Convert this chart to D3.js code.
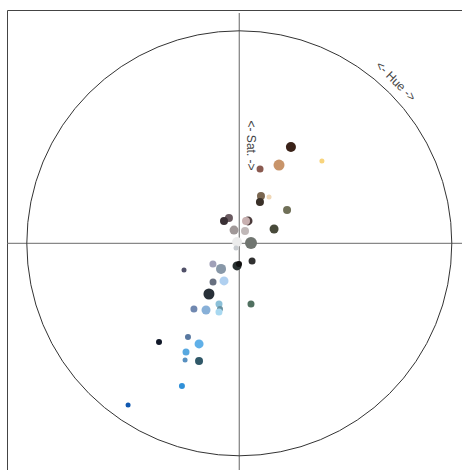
<!DOCTYPE html>
<html><head><meta charset="utf-8">
<script src="https://cdn.jsdelivr.net/npm/d3@7"></script>
<style>html,body{margin:0;padding:0;background:#fff;}svg{display:block;}</style>
</head><body>
<svg id="chart" width="462" height="470"></svg>
<script>
// hue in degrees (clockwise from top), saturation 0..1, dot radius, dot colour
const hues = [28.2,45.1,26.9,15.6,24.6,32.7,26.6,55.1,337.8,325.5,21.3,16.7,67.6,338.3,24.9,300,88.5,215,144.3,185.8,180.8,231.8,215.5,244.2,214.2,202.1,210.9,198.5,169.1,214.6,206.5,196.4,196.5,219.1,208.7,201.8,206.1,204.9,198.9,201.9,214.5];
const sats = [0.514,0.549,0.413,0.363,0.245,0.259,0.217,0.274,0.129,0.127,0.113,0.110,0.177,0.067,0.064,0.012,0.055,0.027,0.103,0.107,0.097,0.158,0.148,0.289,0.220,0.191,0.278,0.301,0.291,0.376,0.351,0.322,0.337,0.599,0.503,0.510,0.570,0.606,0.585,0.724,0.924];
const sizes = [5,2.5,5.5,3.5,4,2.5,4,4,4,4,4.5,4,4.5,4.5,4,5,6,2.5,3.5,4.5,3,3.5,5,2.5,3.5,4.5,5.5,3.5,3.5,3.5,4.5,3,3.5,3,3,4.5,3.5,2.5,4,3,2.5];
const colors = ["#3a2218","#f8d47c","#c8946a","#8a5a50","#7a6650","#f0d8b8","#3a3028","#707058","#6a5a60","#3a3035","#4a3a3a","#c8b0b0","#484a3a","#a09898","#c0b8b8","#ececec","#707570","#c8ccd0","#303030","#283030","#101010","#a0a0b8","#8898a8","#505068","#687080","#b0d0f0","#283038","#8cc0d8","#507060","#7088b0","#88b0d8","#6890a0","#a8d8f0","#101828","#5878a0","#60b0e8","#58a8e0","#5890c0","#305868","#3090d8","#1058b0"];
const hueLabel = "<- Hue ->";
const satLabel = "<- Sat. ->";

const svg = d3.select("#chart");
const cx = 239.3, cy = 243.3, R = 212.5;
const rScale = d3.scaleLinear().domain([0, 1]).range([0, R]);
const aScale = d3.scaleLinear().domain([0, 360]).range([0, 2 * Math.PI]);

// frame
svg.append("line").attr("x1", 7.5).attr("y1", 10.5).attr("x2", 462).attr("y2", 10.5).attr("stroke", "#444").attr("stroke-width", 1);
svg.append("line").attr("x1", 7.5).attr("y1", 10.5).attr("x2", 7.5).attr("y2", 470).attr("stroke", "#444").attr("stroke-width", 1);

const g = svg.append("g").attr("transform", `translate(${cx},${cy})`);
// axes
g.append("line").attr("x1", 7.5 - cx).attr("x2", 462 - cx).attr("y1", 0).attr("y2", 0).attr("stroke", "#888").attr("stroke-width", 1.3);
g.append("line").attr("x1", 0).attr("x2", 0).attr("y1", 13 - cy).attr("y2", 470 - cy).attr("stroke", "#888").attr("stroke-width", 1.3);
// outer circle
g.append("circle").attr("r", rScale(1)).attr("fill", "none").attr("stroke", "#333").attr("stroke-width", 1);

const data = hues.map((h, i) => ({h, s: sats[i], r: sizes[i], c: colors[i]}));
g.selectAll("circle.dot").data(data).join("circle").attr("class", "dot")
  .attr("cx", d => d3.pointRadial(aScale(d.h), rScale(d.s))[0])
  .attr("cy", d => d3.pointRadial(aScale(d.h), rScale(d.s))[1])
  .attr("r", d => d.r)
  .attr("fill", d => d.c);

// labels
const hp = d3.pointRadial(aScale(44), rScale(1) + 12);
g.append("text").attr("transform", `translate(${hp[0]},${hp[1]}) rotate(45)`)
  .attr("text-anchor", "middle").attr("dominant-baseline", "middle")
  .attr("font-family", "Liberation Sans, Arial, sans-serif").attr("font-size", 12).attr("fill", "#444")
  .text(hueLabel);
g.append("text").attr("transform", `translate(11,${rScale(-0.46)}) rotate(90)`)
  .attr("text-anchor", "middle").attr("dominant-baseline", "middle")
  .attr("font-family", "Liberation Sans, Arial, sans-serif").attr("font-size", 12).attr("fill", "#444")
  .text(satLabel);
</script>
</body></html>
